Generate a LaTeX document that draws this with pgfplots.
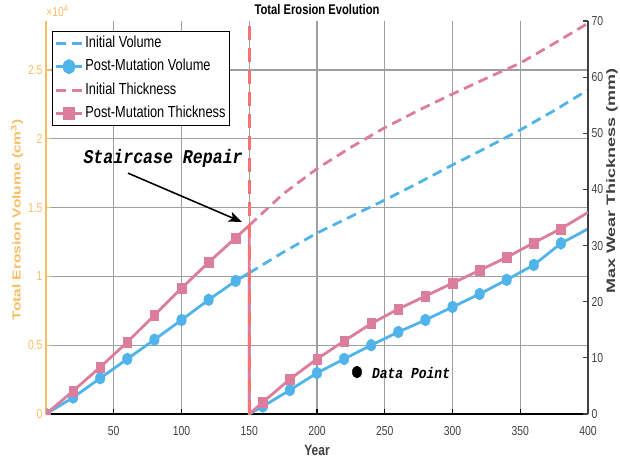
\documentclass[border=0pt]{standalone}
\usepackage{pgfplots}
\pgfplotsset{compat=1.18}
\usetikzlibrary{arrows.meta}
\usepackage{fontspec}
\setmainfont{Liberation Sans}[FakeStretch=0.8]
\newfontfamily\plainsans{Liberation Sans}
\newfontfamily\annfont{Liberation Mono}[FakeStretch=0.85]
\definecolor{cblue}{RGB}{80,180,235}
\definecolor{cpink}{RGB}{220,125,155}
\definecolor{cred}{RGB}{245,115,115}
\definecolor{corange}{RGB}{248,190,100}
\definecolor{cdark}{RGB}{64,64,64}

\pgfplotstableread{
x y
150 1.025
175 1.175
200 1.315
225 1.435
250 1.555
275 1.68
300 1.81
325 1.935
350 2.064
375 2.205
400 2.355
}\initvol
\pgfplotstableread{
x y
0 0
20 0.12
40 0.26
60 0.40
80 0.54
100 0.683
120 0.83
140 0.967
150 1.025
150 0
160 0.055
180 0.174
200 0.298
220 0.40
240 0.50
260 0.596
280 0.683
300 0.778
320 0.872
340 0.975
360 1.083
380 1.24
400 1.345
}\postvol
\pgfplotstableread{
x y
0 0
20 0.12
40 0.26
60 0.40
80 0.54
100 0.683
120 0.83
140 0.967
160 0.055
180 0.174
200 0.298
220 0.40
240 0.50
260 0.596
280 0.683
300 0.778
320 0.872
340 0.975
360 1.083
380 1.24
}\postvolmk
\pgfplotstableread{
x y
150 33.6
175 39.2
200 43.7
225 47.5
250 51.0
275 54.1
300 57.0
325 59.8
350 62.5
375 66.0
400 69.6
}\initthk
\pgfplotstableread{
x y
0 0
20 4.1
40 8.35
60 12.8
80 17.6
100 22.4
120 27.0
140 31.4
150 33.6
150 0
160 2.1
180 6.2
200 9.8
220 13.0
240 16.1
260 18.7
280 21.0
300 23.3
320 25.6
340 27.9
360 30.5
380 33.0
400 35.9
}\postthk
\pgfplotstableread{
x y
0 0
20 4.1
40 8.35
60 12.8
80 17.6
100 22.4
120 27.0
140 31.4
160 2.1
180 6.2
200 9.8
220 13.0
240 16.1
260 18.7
280 21.0
300 23.3
320 25.6
340 27.9
360 30.5
380 33.0
}\postthkmk

\begin{document}
\begin{tikzpicture}
\begin{axis}[
  at={(0pt,0pt)}, anchor=south west,
  scale only axis, width=542pt, height=393pt,
  xmin=0, xmax=400, ymin=0, ymax=2.856,
  axis x line*=bottom, axis y line*=left,
  xtick={50,100,...,400},
  ytick={0,0.5,1,1.5,2,2.5},
  yticklabels={0,0.5,1,1.5,2,2.5},
  grid=major,
  major grid style={draw=gray!75, line width=1.1pt},
  tick align=inside,
  major tick length=5pt,
  x axis line style={black, line width=1.6pt},
  y axis line style={corange, line width=1.6pt},
  xtick style={black, line width=1.2pt},
  ytick style={corange, line width=1.2pt},
  xticklabel style={text=cdark, font=\fontsize{13}{13}\selectfont, yshift=-9pt},
  yticklabel style={text=corange, font=\fontsize{13}{13}\selectfont},
  /pgf/number format/assume math mode=true,
  clip marker paths=true,
  xlabel={\bfseries Year},
  xlabel style={at={(axis description cs:0.5,-0.0916)}, anchor=center, font=\fontsize{15}{15}\selectfont, text=cdark},
  ylabel={\scalebox{1}[0.75]{\plainsans\bfseries Total Erosion Volume (cm\textsuperscript{3})}},
  ylabel style={at={(axis description cs:-0.0535,0.4936)}, anchor=center, rotate=0, font=\fontsize{15.5}{15.5}\selectfont, text=corange},
]
\addplot[cblue, line width=2.8pt, dash pattern=on 10pt off 6pt, forget plot] table[x=x,y=y]{\initvol};
\addplot[cblue, line width=2.8pt, forget plot] table[x=x,y=y]{\postvol};
\addplot[cblue, only marks, mark=*, mark size=6pt, mark options={xscale=0.8}, forget plot] table[x=x,y=y]{\postvolmk};
\addplot[black, only marks, mark=*, mark size=6pt, mark options={xscale=0.78}, forget plot] coordinates {(229.5,0.305)};
\end{axis}
\begin{axis}[
  at={(0pt,0pt)}, anchor=south west,
  scale only axis, width=542pt, height=393pt,
  xmin=0, xmax=400, ymin=0, ymax=70,
  axis y line*=right, axis x line=none,
  ytick={0,10,...,70},
  tick align=inside,
  major tick length=5pt,
  y axis line style={cdark, line width=1.6pt},
  ytick style={cdark, line width=1.2pt},
  yticklabel style={text=cdark, font=\fontsize{13}{13}\selectfont},
  /pgf/number format/assume math mode=true,
  clip marker paths=true,
  ylabel={\scalebox{1}[0.68]{\plainsans\bfseries Max Wear Thickness (mm)}},
  ylabel style={at={(axis description cs:1.044,0.593)}, anchor=center, rotate=0, font=\fontsize{18}{18}\selectfont, text=cdark},
  legend cell align=left,
  legend image code/.code={\draw[mark repeat=2,mark phase=2,#1] plot coordinates {(0pt,0pt) (13pt,0pt) (26pt,0pt)};},
  legend style={at={(axis description cs:0.011,0.975)}, anchor=north west,
    draw=black, line width=1.2pt, fill=white, inner sep=2pt,
    font=\fontsize{16}{16}\selectfont, row sep=4pt,
    nodes={inner sep=2pt, text height=12pt, text depth=3.5pt}},
]
\addlegendimage{cblue, line width=2.8pt, dash pattern=on 10pt off 6pt}
\addlegendentry{Initial Volume}
\addlegendimage{cblue, line width=2.8pt, mark=*, mark size=6pt, mark options={xscale=0.8, solid}}
\addlegendentry{Post-Mutation Volume}
\addlegendimage{cpink, line width=2.8pt, dash pattern=on 10pt off 6pt}
\addlegendentry{Initial Thickness}
\addlegendimage{cpink, line width=2.8pt, mark=square*, mark size=5pt, mark options={xscale=0.85, solid}}
\addlegendentry{Post-Mutation Thickness}
\addplot[cpink, line width=2.8pt, dash pattern=on 10pt off 6pt, forget plot] table[x=x,y=y]{\initthk};
\addplot[cpink, line width=2.8pt, forget plot] table[x=x,y=y]{\postthk};
\addplot[cpink, only marks, mark=square*, mark size=5pt, mark options={xscale=0.85}, forget plot] table[x=x,y=y]{\postthkmk};
\addplot[cred, line width=3.5pt, dash pattern=on 14pt off 8pt, forget plot] coordinates {(150,0) (150,70)};
\node[anchor=base west, font=\annfont\bfseries\itshape\fontsize{19.5}{19.5}\selectfont] at (axis cs:25.1,44.7) {Staircase Repair};
\draw[-{Stealth[length=13pt, width=10pt, inset=3pt]}, line width=1.6pt, black] (axis cs:60.5,42.9) -- (axis cs:144.6,34.2);
\node[anchor=base west, font=\annfont\bfseries\itshape\fontsize{15.3}{15.3}\selectfont] at (axis cs:238,6.4) {Data Point};
\end{axis}
\node[font=\bfseries\fontsize{14}{14}\selectfont, text=black] at (271pt,404pt) {Total Erosion Evolution};
\node[anchor=west, font=\fontsize{13}{13}\selectfont, text=corange, inner sep=0pt] at (0pt,403pt) {×10\textsuperscript{4}};
\pgfresetboundingbox
\path[use as bounding box] (-46pt,-44pt) rectangle (574pt,414pt);
\end{tikzpicture}
\end{document}
